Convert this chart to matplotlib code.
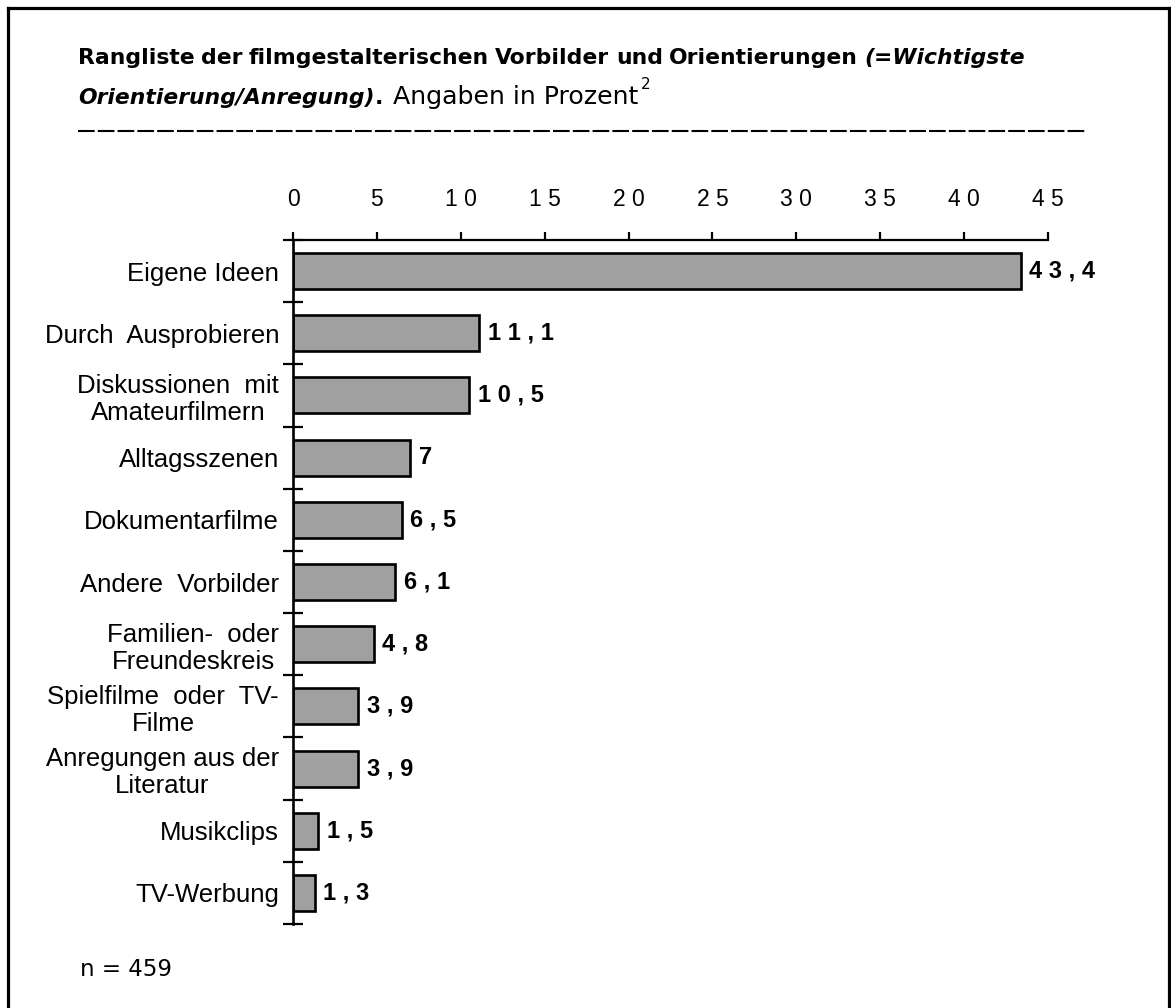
import numpy as np
import matplotlib.pyplot as plt
from matplotlib.lines import Line2D

plt.rcParams['font.family'] = ['Liberation Sans', 'DejaVu Sans']

categories = ['Eigene Ideen', 'Durch  Ausprobieren', 'Diskussionen  mit\nAmateurfilmern',
              'Alltagsszenen', 'Dokumentarfilme', 'Andere  Vorbilder',
              'Familien-  oder\nFreundeskreis', 'Spielfilme  oder  TV-\nFilme',
              'Anregungen aus der\nLiteratur', 'Musikclips', 'TV-Werbung']
values = [43.4, 11.1, 10.5, 7.0, 6.5, 6.1, 4.8, 3.9, 3.9, 1.5, 1.3]
xticks = [0, 5, 10, 15, 20, 25, 30, 35, 40, 45]
xtick_labels = ['0', '5', '1 0', '1 5', '2 0', '2 5', '3 0', '3 5', '4 0', '4 5']

title_words = ['Rangliste', 'der', 'filmgestalterischen', 'Vorbilder', 'und', 'Orientierungen']
title_italic_1 = '(=Wichtigste'
title_italic_2 = 'Orientierung/Anregung)'
title_tail = 'Angaben in Prozent'
footnote_mark = '2'
n_text = 'n = 459'


def spaced(v):
    s = f'{v:g}'.replace('.', ',')
    return ' '.join(s)


W, H = 1171, 1008
fig = plt.figure(figsize=(W / 100, H / 100), dpi=100)
ax = fig.add_axes([293 / W, 1 - 924 / H, 755 / W, 684 / H])

y = np.arange(len(categories))
ax.barh(y, values, height=0.58, color='#a0a0a0', edgecolor='black', linewidth=1.9)

ax.set_xlim(0, 45)
ax.set_ylim(len(categories) - 0.5, -0.5)

ax.xaxis.tick_top()
ax.set_xticks(xticks)
ax.set_xticklabels(xtick_labels, fontsize=16.5)
ax.tick_params(axis='x', direction='out', length=6, width=1.6, pad=15, colors='black')

ax.set_yticks(y)
ax.set_yticklabels(categories, fontsize=18.5, multialignment='center', linespacing=1.15)
ax.tick_params(axis='y', which='major', length=0, pad=10)
ax.set_yticks(np.arange(len(categories) + 1) - 0.5, minor=True)
ax.tick_params(axis='y', which='minor', direction='inout', length=14, width=1.6)

for sp in ['right', 'bottom']:
    ax.spines[sp].set_visible(False)
ax.spines['left'].set_linewidth(1.9)
ax.spines['top'].set_linewidth(1.6)

for i, v in enumerate(values):
    ax.annotate(spaced(v), (v, i), xytext=(6, 0), textcoords='offset points',
                va='center', ha='left', fontsize=17, fontweight='bold')

# frame around the figure (no bottom edge)
frame_kw = dict(color='black', linewidth=2.3, transform=fig.transFigure)
fig.add_artist(Line2D([8 / W, 8 / W], [0, 1 - 8 / H], **frame_kw))
fig.add_artist(Line2D([8 / W, 1169 / W], [1 - 8 / H, 1 - 8 / H], **frame_kw))
fig.add_artist(Line2D([1169 / W, 1169 / W], [1 - 8 / H, 0], **frame_kw))

# dashed rule under the title
fig.add_artist(Line2D([78 / W, 1085 / W], [1 - 131 / H, 1 - 131 / H], color='black',
                      linewidth=1.5, dashes=(8, 1.5), transform=fig.transFigure))

renderer = fig.canvas.get_renderer()
tfont = ['DejaVu Sans']


def width_px(s, **kw):
    t = fig.text(0, 0, s, **kw)
    w = t.get_window_extent(renderer).width
    t.remove()
    return w


# title line 1: pick the size that fills x=78..1025 with normal word spacing
pieces = [(w, dict(fontweight='bold')) for w in title_words]
pieces.append((title_italic_1, dict(fontweight='bold', fontstyle='italic')))
ref = 12
w12 = sum(width_px(s, fontsize=ref, family=tfont, **kw) for s, kw in pieces)
sp12 = width_px('a a', fontsize=ref, family=tfont, fontweight='bold') - \
    width_px('aa', fontsize=ref, family=tfont, fontweight='bold')
tsize = ref * (1025 - 78) / (w12 + (len(pieces) - 1) * sp12)

widths = [width_px(s, fontsize=tsize, family=tfont, **kw) for s, kw in pieces]
gap = (1025 - 78 - sum(widths)) / (len(pieces) - 1)
x = 78
for (s, kw), w in zip(pieces, widths):
    fig.text(x / W, 1 - 64 / H, s, va='baseline', ha='left', fontsize=tsize, family=tfont, **kw)
    x += w + gap

# title line 2
yb = 1 - 104 / H
x = 78
fig.text(x / W, yb, title_italic_2, va='baseline', ha='left', fontsize=tsize, family=tfont,
         fontweight='bold', fontstyle='italic')
x += width_px(title_italic_2, fontsize=tsize, family=tfont, fontweight='bold', fontstyle='italic')
fig.text(x / W, yb, '.', va='baseline', ha='left', fontsize=tsize, family=tfont, fontweight='bold')
x += width_px('.', fontsize=tsize, family=tfont, fontweight='bold') + 10
fig.text(x / W, yb, title_tail, va='baseline', ha='left', fontsize=tsize + 2.5, family=tfont)
x += width_px(title_tail, fontsize=tsize + 2.5, family=tfont) + 3
fig.text(x / W, yb + 15 / H, footnote_mark, va='baseline', ha='left', fontsize=11, family=tfont)

fig.text(80 / W, 1 - 976 / H, n_text, va='baseline', ha='left', fontsize=16.5, family=tfont)

fig.savefig('out.png', dpi=100)
